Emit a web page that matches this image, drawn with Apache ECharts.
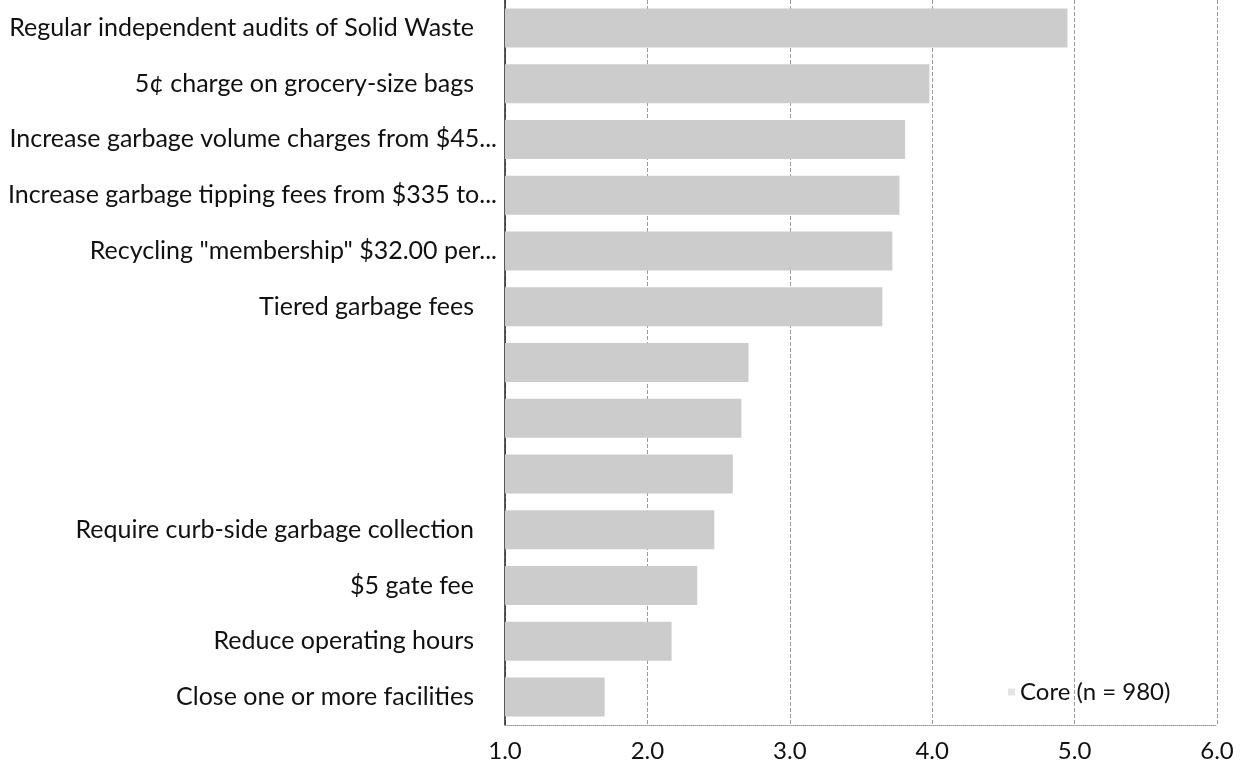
<!DOCTYPE html>
<html>
<head>
<meta charset="utf-8">
<script src="https://cdn.jsdelivr.net/npm/echarts@6/dist/echarts.min.js"></script>
<style>
  html, body { margin: 0; padding: 0; background: #fff; }
  #chart { width: 1248px; height: 775px; }
</style>
</head>
<body>
<div id="chart"></div>
<script>
// categories, top to bottom (three labels are blank in the source)
const categories = [
  'Regular independent audits of Solid Waste',
  '5\u00a2 charge on grocery-size bags',
  'Increase garbage volume charges from $45...',
  'Increase garbage tipping fees from $335 to...',
  'Recycling "membership" $32.00 per...',
  'Tiered garbage fees',
  '',
  '',
  '',
  'Require curb-side garbage collection',
  '$5 gate fee',
  'Reduce operating hours',
  'Close one or more facilities'
];
const coreValues = [4.95, 3.98, 3.81, 3.77, 3.72, 3.65, 2.71, 2.66, 2.60, 2.47, 2.35, 2.17, 1.70];
const seriesName = 'Core (n = 980)';

const font = 'Lato, "Noto Sans", sans-serif';

const chart = echarts.init(document.getElementById('chart'));
const option = {
  animation: false,
  grid: { left: 505, right: 31, top: -6, bottom: 50, containLabel: false },
  legend: {
    data: [seriesName],
    left: 1003,
    top: 675,
    itemWidth: 7,
    itemHeight: 7,
    itemGap: 7,
    icon: 'rect',
    itemStyle: { color: '#e4e4e4' },
    textStyle: { fontFamily: font, fontSize: 24, color: '#111' }
  },
  xAxis: {
    type: 'value',
    min: 1,
    max: 6,
    interval: 1,
    axisLine: { show: true, lineStyle: { color: '#999', type: 'dotted', width: 1 } },
    axisTick: { show: false },
    axisLabel: {
      fontFamily: font, fontSize: 24, color: '#111', margin: 14,
      formatter: v => v.toFixed(1)
    },
    splitLine: { show: true, lineStyle: { color: '#999', type: 'dashed', width: 1 } }
  },
  yAxis: {
    type: 'category',
    inverse: true,
    data: categories,
    axisLine: { show: true, lineStyle: { color: '#222', width: 1.5 } },
    axisTick: { show: false },
    axisLabel: {
      fontFamily: font, fontSize: 25, color: '#111', margin: 8,
      // labels cut off with "..." sit right against the axis, the rest have trailing space
      formatter: v => (v === '' || v.endsWith('...')) ? v : '{p|' + v + '}',
      rich: {
        p: { fontFamily: font, fontSize: 25, color: '#111', padding: [0, 23, 0, 0] }
      }
    }
  },
  series: [{
    name: seriesName,
    type: 'bar',
    data: coreValues,
    barWidth: 39,
    itemStyle: { color: '#cccccc' }
  }]
};
chart.setOption(option);
</script>
</body>
</html>
